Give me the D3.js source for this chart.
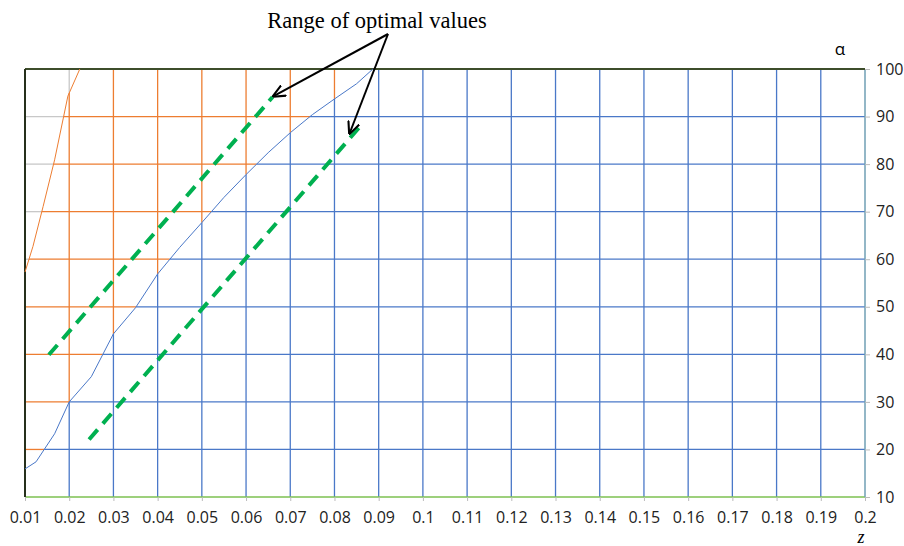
<!DOCTYPE html>
<meta charset="utf-8">
<script src="https://d3js.org/d3.v7.min.js"></script>
<style>
  body { margin: 0; background: #fff; }
  .tick text { font-family: "Open Sans", sans-serif; font-size: 16px; fill: #222; }
</style>
<body>
<div id="chart"></div>
<script>

// data
var zTicks = [0.01,0.02,0.03,0.04,0.05,0.06,0.07,0.08,0.09,0.1,0.11,0.12,0.13,0.14,0.15,0.16,0.17,0.18,0.19,0.2];
var aTicks = [10,20,30,40,50,60,70,80,90,100];

// orange curve (left boundary)
var orangeZ = [0.01, 0.0118, 0.0141, 0.0167, 0.0197, 0.0224];
var orangeA = [57.3, 62.7, 71.1, 80.9, 94.3, 100];

// blue curve
var blueZ = [0.01, 0.0125, 0.0167, 0.02, 0.025, 0.03, 0.035, 0.04, 0.045, 0.05, 0.055, 0.06, 0.065, 0.07, 0.075, 0.08, 0.085, 0.0887];
var blueA = [15.9, 17.4, 23.3, 30, 35.3, 44.3, 49.8, 56.9, 62.5, 67.7, 73, 77.8, 82.4, 86.6, 90.4, 93.7, 96.9, 100];

// green dashed lines: [z0, a0, z1, a1]
var optLow  = [0.0154, 39.9, 0.066, 94.1];
var optHigh = [0.0245, 22.1, 0.0866, 88.8];

var width = 904, height = 546;
var margin = {left: 25, right: 39, top: 69, bottom: 49};

var svg = d3.select("#chart").append("svg")
    .attr("width", width)
    .attr("height", height);

var x = d3.scaleLinear().domain([0.01, 0.2]).range([margin.left, width - margin.right]);
var y = d3.scaleLinear().domain([10, 100]).range([height - margin.bottom, margin.top]);

// piecewise curves as scales
var oCurve = d3.scaleLinear().domain(orangeZ).range(orangeA).clamp(true);
var oInv   = d3.scaleLinear().domain(orangeA).range(orangeZ).clamp(true);
var bCurve = d3.scaleLinear().domain(blueZ).range(blueA).clamp(true);
var bInv   = d3.scaleLinear().domain(blueA).range(blueZ).clamp(true);

var colBlue = "#4a78c8", colOrange = "#ed7d31", colGray = "#c8c8c8";

var grid = svg.append("g");

// vertical grid lines, split where the curves cross
zTicks.slice(1, -1).forEach(function(z) {
  var aB = z > 0.0887 ? 100 : bCurve(z);
  var aO = z > 0.0224 ? 100 : oCurve(z);
  var segs = [[10, aB, colBlue], [aB, aO, colOrange], [aO, 100, colGray]];
  segs.forEach(function(s) {
    if (s[1] - s[0] <= 0) return;
    grid.append("line")
      .attr("x1", x(z)).attr("x2", x(z))
      .attr("y1", y(s[0])).attr("y2", y(s[1]))
      .attr("stroke", s[2]).attr("stroke-width", 1.3);
  });
});

// horizontal grid lines
aTicks.slice(1, -1).forEach(function(a) {
  var zO = a < orangeA[0] ? 0.01 : oInv(a);
  var zB = a < blueA[0] ? 0.01 : bInv(a);
  var segs = [[0.01, zO, colGray], [zO, zB, colOrange], [zB, 0.2, colBlue]];
  segs.forEach(function(s) {
    if (s[1] - s[0] <= 0) return;
    grid.append("line")
      .attr("x1", x(s[0])).attr("x2", x(s[1]))
      .attr("y1", y(a)).attr("y2", y(a))
      .attr("stroke", s[2]).attr("stroke-width", 1.3);
  });
});

// frame
svg.append("line").attr("x1", x(0.01)).attr("x2", x(0.2)).attr("y1", y(10)).attr("y2", y(10))
  .attr("stroke", "#7cc150").attr("stroke-width", 1.5);
svg.append("line").attr("x1", x(0.2)).attr("x2", x(0.2)).attr("y1", y(10)).attr("y2", y(100))
  .attr("stroke", "#6f9fb4").attr("stroke-width", 1.5);
svg.append("line").attr("x1", x(0.01)).attr("x2", x(0.2)).attr("y1", y(100)).attr("y2", y(100))
  .attr("stroke", "#3d4d2b").attr("stroke-width", 2);
svg.append("line").attr("x1", x(0.01)).attr("x2", x(0.01)).attr("y1", y(10)).attr("y2", y(100))
  .attr("stroke", "#26301c").attr("stroke-width", 2);

// curves
var line = d3.line().x(function(d) { return x(d[0]); }).y(function(d) { return y(d[1]); });
svg.append("path")
  .datum(orangeZ.map(function(z, i) { return [z, orangeA[i]]; }))
  .attr("d", line).attr("fill", "none").attr("stroke", colOrange).attr("stroke-width", 1);
svg.append("path")
  .datum(blueZ.map(function(z, i) { return [z, blueA[i]]; }))
  .attr("d", line).attr("fill", "none").attr("stroke", colBlue).attr("stroke-width", 1);

// axes
var xAxis = d3.axisBottom(x).tickValues(zTicks).tickSize(4).tickPadding(11)
  .tickFormat(function(d) { return String(+d.toFixed(2)); });
var gx = svg.append("g").attr("transform", "translate(0," + y(10) + ")").call(xAxis);
gx.select(".domain").remove();
gx.selectAll(".tick line").attr("stroke", "#bbb");

var yAxis = d3.axisRight(y).tickValues(aTicks).tickSize(5).tickPadding(6);
var gy = svg.append("g").attr("transform", "translate(" + x(0.2) + ",0)").call(yAxis);
gy.select(".domain").remove();
gy.selectAll(".tick line").attr("stroke", "#bbb");

// optimal range dashed lines
[optLow, optHigh].forEach(function(l) {
  svg.append("line")
    .attr("x1", x(l[0])).attr("y1", y(l[1]))
    .attr("x2", x(l[2])).attr("y2", y(l[3]))
    .attr("stroke", "#00b050").attr("stroke-width", 4)
    .attr("stroke-dasharray", "13,8");
});

// annotation arrows
svg.append("defs").append("marker")
  .attr("id", "arrow").attr("viewBox", "0 0 10 10")
  .attr("refX", 9).attr("refY", 5)
  .attr("markerWidth", 13).attr("markerHeight", 13)
  .attr("markerUnits", "userSpaceOnUse")
  .attr("orient", "auto")
  .append("path").attr("d", "M0,0.5 L10,5 L0,9.5").attr("fill", "none")
  .attr("stroke", "#000").attr("stroke-width", 1.6);

var ax0 = 388, ay0 = 34;
[[x(optLow[2]) + 1, y(optLow[3]) - 1], [x(optHigh[2]) - 14, y(optHigh[3]) + 11]].forEach(function(p) {
  svg.append("line")
    .attr("x1", ax0).attr("y1", ay0).attr("x2", p[0]).attr("y2", p[1])
    .attr("stroke", "#000").attr("stroke-width", 2)
    .attr("marker-end", "url(#arrow)");
});

svg.append("text")
  .attr("x", 377).attr("y", 28)
  .attr("text-anchor", "middle")
  .style("font-family", "'Liberation Serif', 'Times New Roman', serif")
  .style("font-size", "22.5px")
  .text("Range of optimal values");

svg.append("text")
  .attr("x", 840).attr("y", 55)
  .attr("text-anchor", "middle")
  .style("font-family", "'Open Sans', sans-serif")
  .style("font-size", "17px")
  .text("α");

svg.append("text")
  .attr("x", 861).attr("y", 543)
  .attr("text-anchor", "middle")
  .style("font-family", "'Liberation Serif', serif")
  .style("font-style", "italic")
  .style("font-size", "18px")
  .text("z");

</script>
</body>
